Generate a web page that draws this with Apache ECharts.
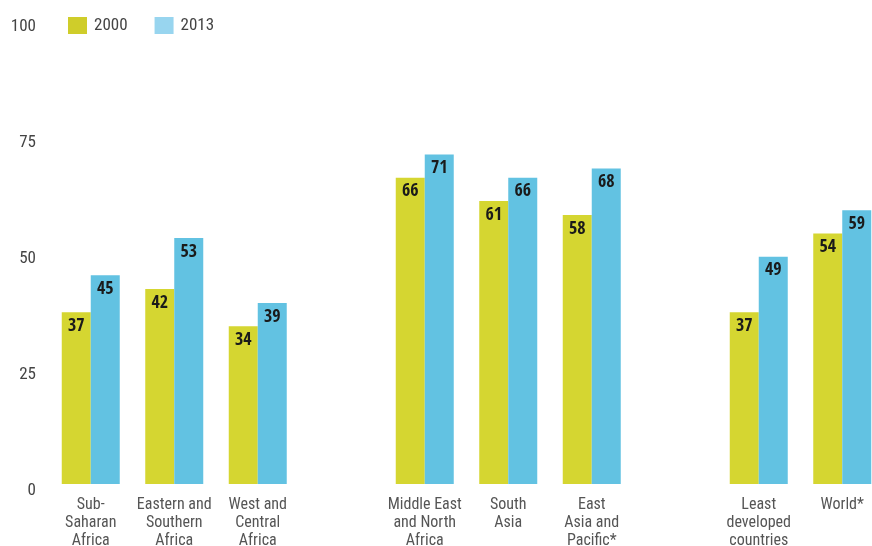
<!DOCTYPE html>
<html>
<head>
<meta charset="utf-8">
<script src="https://cdn.jsdelivr.net/npm/echarts@6/dist/echarts.min.js"></script>
<style>
  html, body { margin: 0; padding: 0; background: #ffffff; }
  #chart { width: 872px; height: 546px; }
</style>
</head>
<body>
<div id="chart"></div>
<script>
// Regions, with blank slots separating the three groups
const categories = [
  'Sub-\nSaharan\nAfrica',
  'Eastern and\nSouthern\nAfrica',
  'West and\nCentral\nAfrica',
  '',
  'Middle East\nand North\nAfrica',
  'South\nAsia',
  'East\nAsia and\nPacific*',
  '',
  'Least\ndeveloped\ncountries',
  'World*'
];
const values2000 = [37, 42, 34, null, 66, 61, 58, null, 37, 54];
const values2013 = [45, 53, 39, null, 71, 66, 68, null, 49, 59];
const yTicks = [0, 25, 50, 75, 100];

const FONT = '"Roboto Condensed", "Liberation Sans", sans-serif';
const LABEL_FONT = '"Open Sans Condensed", "Roboto Condensed", sans-serif';
const YELLOW = '#d5d631';
const BLUE = '#62c2e2';

const barLabel = {
  show: true,
  position: 'insideTop',
  distance: 5,
  fontFamily: LABEL_FONT,
  fontWeight: 'bold',
  fontSize: 18,
  color: '#1a1a1a'
};

const chart = echarts.init(document.getElementById('chart'), null, { renderer: 'canvas' });
chart.setOption({
  animation: false,
  backgroundColor: '#ffffff',
  textStyle: { fontFamily: FONT },
  legend: {
    left: 68,
    top: 17,
    padding: 0,
    itemWidth: 19,
    itemHeight: 17,
    itemGap: 27,
    icon: 'rect',
    textStyle: { fontFamily: FONT, fontSize: 17, color: '#444444', padding: [0, 0, 0, 2] },
    data: [
      { name: '2000', itemStyle: { color: '#cfcd2a' } },
      { name: '2013', itemStyle: { color: '#98d5ef' } }
    ]
  },
  grid: {
    left: 49,
    right: -12,
    top: 20,
    bottom: 62,
    outerBoundsMode: 'none'
  },
  xAxis: {
    type: 'category',
    data: categories,
    axisLine: { show: false },
    axisTick: { show: false },
    axisLabel: {
      interval: 0,
      margin: 12,
      fontFamily: FONT,
      fontSize: 16,
      lineHeight: 18,
      color: '#555555'
    }
  },
  yAxis: {
    type: 'value',
    min: yTicks[0],
    max: yTicks[yTicks.length - 1],
    interval: yTicks[1] - yTicks[0],
    splitLine: { show: false },
    axisLine: { show: false },
    axisTick: { show: false },
    axisLabel: {
      margin: 13,
      fontFamily: FONT,
      fontSize: 17,
      lineHeight: 13,
      verticalAlign: 'top',
      color: '#444444'
    }
  },
  series: [
    {
      name: '2000',
      type: 'bar',
      data: values2000,
      barWidth: 29,
      barGap: '0%',
      itemStyle: { color: YELLOW },
      label: barLabel
    },
    {
      name: '2013',
      type: 'bar',
      data: values2013,
      barWidth: 29,
      barGap: '0%',
      itemStyle: { color: BLUE },
      label: barLabel
    }
  ]
});
</script>
</body>
</html>
